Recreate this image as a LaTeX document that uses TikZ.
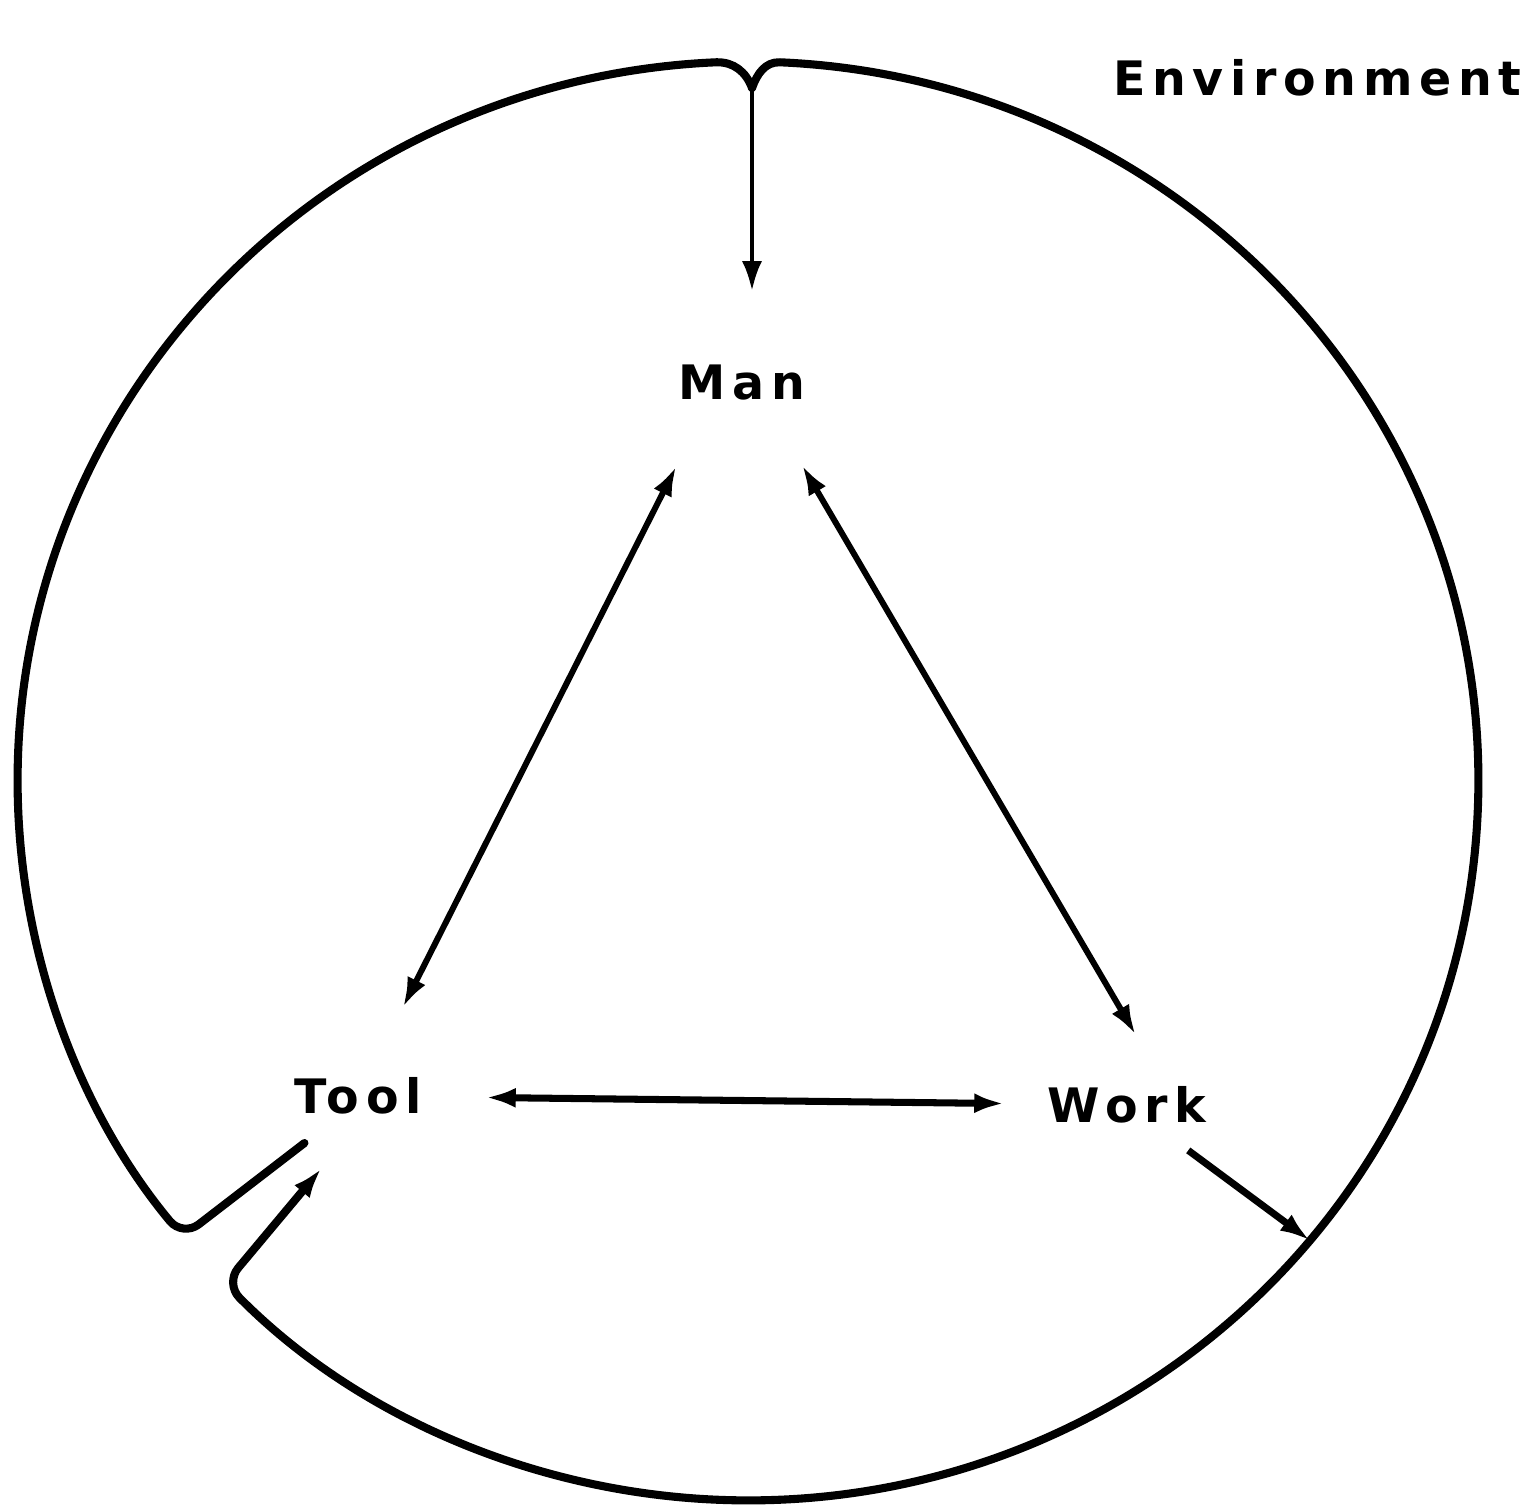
\documentclass[tikz,border=0pt]{standalone}
\usepackage{fontspec}
\setmainfont{DejaVu Sans}
\usetikzlibrary{arrows.meta,calc}
\begin{document}
\begin{tikzpicture}[x=0.01cm,y=0.01cm,
  font=\fontsize{13.5}{16}\selectfont\bfseries\addfontfeature{LetterSpace=14},
  word/.style={inner sep=0pt, minimum width=1.8cm, minimum height=0.56cm},
  ring/.style={line width=2.3pt, line join=round, line cap=round},
  link/.style={line width=1.7pt, {Latex[length=0.3cm,width=0.2cm]}-{Latex[length=0.3cm,width=0.2cm]}},
  >={Latex[length=0.3cm,width=0.2cm]}]
  \useasboundingbox (0,0) rectangle (1526,1508);
  \coordinate (cen) at (748,727);
  \coordinate (top) at (752,1420);
  \coordinate (hit) at ($(cen)+(320.3:7.3cm and 7.19cm)$);

  \node[word] (man) at (742,1125) {Man};
  \node[word] (tool) at (358,412) {Tool};
  \node[word] (work) at (1127,403) {Work};
  \node[anchor=east, inner sep=0pt] (env) at (1522,1430) {Environment};

  \draw[ring, shorten >=0.3cm] (top) to[out=110,in=2] ($(cen)+(92.5:7.3cm and 7.19cm)$)
    [rounded corners=0.2cm] arc[start angle=92.5, end angle=219.3, x radius=7.3cm, y radius=7.19cm]
    -- (tool.224);
  \draw[ring, ->, shorten >=0.57cm] (top) to[out=70,in=178] ($(cen)+(87.5:7.3cm and 7.19cm)$)
    [rounded corners=0.2cm] arc[start angle=87.5, end angle=-135.7, x radius=7.3cm, y radius=7.19cm]
    -- (tool.south);

  \draw[line width=1.3pt, ->, shorten >=0.63cm] (top) -- (top |- man.north);
  \draw[link, shorten <=0.61cm, shorten >=0.67cm] (man.217) -- (tool.63);
  \draw[link, shorten <=0.62cm, shorten >=0.48cm] (man.-45) -- (work.41);
  \draw[link, line width=2pt, shorten <=0.37cm, shorten >=0.32cm] (tool) -- (work);
  \draw[line width=2pt, ->, shorten <=0.28cm] (work) -- (hit);
\end{tikzpicture}
\end{document}
